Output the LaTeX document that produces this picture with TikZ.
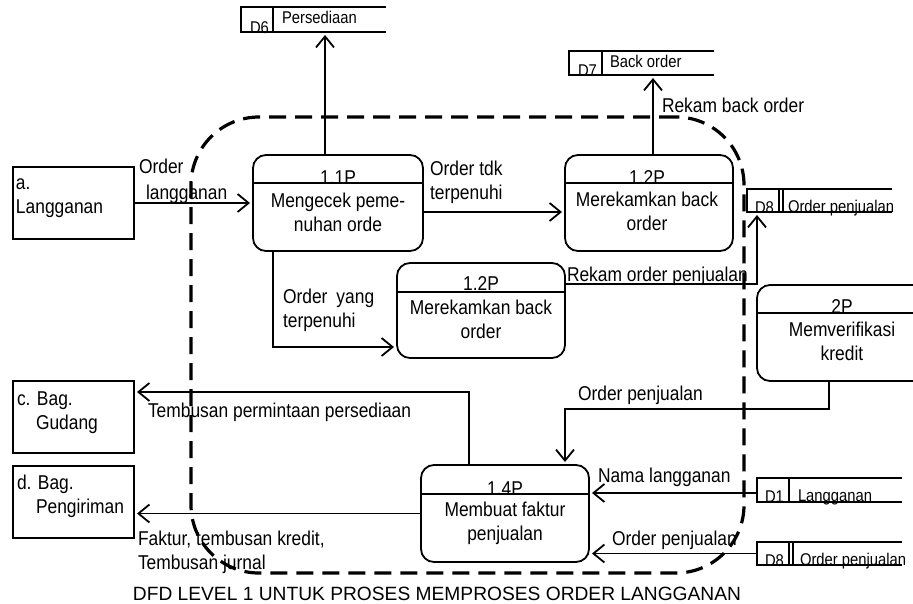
\documentclass[tikz,border=0pt]{standalone}
\usepackage{fontspec}
\setmainfont{Liberation Sans}[FakeStretch=0.87]
\newfontfamily\captionfont{Liberation Sans}
\usetikzlibrary{arrows.meta}

\begin{document}
\begin{tikzpicture}[x=1pt,y=-1pt,
  every node/.style={inner sep=0pt, outer sep=0pt},
  % multi-line texts are placed by the baseline of their last line
  lbl/.style={font=\fontsize{20}{24}\selectfont, anchor=base west, align=left},
  stxt/.style={font=\fontsize{17}{20}\selectfont, anchor=base west},
  ptxt/.style={font=\fontsize{20}{24}\selectfont, anchor=base, align=center},
  ext/.style={draw, line width=1.8pt, minimum width=121pt, minimum height=72pt},
  proc/.style={draw, line width=1.8pt, rounded corners=13pt},
  store/.style={minimum width=145pt},
  line/.style={line width=1.8pt},
  flow/.style={line width=1.8pt, -{Straight Barb[length=11pt,width=18pt]}, shorten >=3pt},
  boundary/.style={draw, line width=3.2pt, dash pattern=on 17pt off 9pt, rounded corners=68pt}
]
\useasboundingbox (0,0) rectangle (913,603);

% ---------- external entities ----------
\node[ext] (extA) at (73.5,203) {};
\node[lbl] (extAt) at ([xshift=3pt,yshift=-46pt]extA.north west) {a.\\Langganan};
\node[ext] (extC) at (73.5,417) {};
\node[lbl] (extCt) at ([xshift=4pt,yshift=-48pt]extC.north west) {c. Bag.\\\hspace*{19pt}Gudang};
\node[ext] (extD) at (73.5,502) {};
\node[lbl] (extDt) at ([xshift=4pt,yshift=-47pt]extD.north west) {d. Bag.\\\hspace*{19pt}Pengiriman};

% ---------- processes ----------
\node[proc, minimum width=170pt, minimum height=96pt] (p11) at (338,203) {};
\draw[line] ([yshift=-28pt]p11.north west) -- ([yshift=-28pt]p11.north east);
\node[ptxt] (p11id) at ([yshift=-29pt]p11.north) {1.1P};
\node[ptxt] (p11tx) at ([yshift=-76pt]p11.north) {Mengecek peme-\\nuhan orde};

\node[proc, minimum width=168pt, minimum height=96pt] (p12a) at (649,203) {};
\draw[line] ([yshift=-28pt]p12a.north west) -- ([yshift=-28pt]p12a.north east);
\node[ptxt] (p12aid) at ([xshift=-2pt,yshift=-29pt]p12a.north) {1.2P};
\node[ptxt] (p12atx) at ([xshift=-2pt,yshift=-75pt]p12a.north) {Merekamkan back\\order};

\node[proc, minimum width=168pt, minimum height=95pt] (p12b) at (481,310.5) {};
\draw[line] ([yshift=-29pt]p12b.north west) -- ([yshift=-29pt]p12b.north east);
\node[ptxt] (p12bid) at ([yshift=-27pt]p12b.north) {1.2P};
\node[ptxt] (p12btx) at ([yshift=-75pt]p12b.north) {Merekamkan back\\order};

\node[proc, minimum width=170pt, minimum height=96pt] (p2) at (842,333) {};
\draw[line] ([yshift=-28pt]p2.north west) -- ([yshift=-28pt]p2.north east);
\node[ptxt] (p2id) at ([yshift=-28pt]p2.north) {2P};
\node[ptxt] (p2tx) at ([yshift=-75pt]p2.north) {Memverifikasi\\kredit};

\node[proc, minimum width=168pt, minimum height=97pt] (p14) at (505,513.5) {};
\draw[line] ([yshift=-29pt]p14.north west) -- ([yshift=-29pt]p14.north east);
\node[ptxt] (p14id) at ([yshift=-30pt]p14.north) {1.4P};
\node[ptxt] (p14tx) at ([yshift=-75pt]p14.north) {Membuat faktur\\penjualan};

% ---------- data stores ----------
\node[store, minimum height=25pt] (d6) at (313.5,19.5) {};
\node[stxt] (d6id) at ([xshift=9pt,yshift=-1pt]d6.south west) {D6};
\node[stxt] (d6tx) at ([xshift=41pt,yshift=-16pt]d6.north west) {Persediaan};
\draw[line] (d6.north east) -- (d6.north west) -- (d6.south west) -- (d6.south east);
\draw[line] ([xshift=32pt]d6.north west) -- ([xshift=32pt]d6.south west);

\node[store, minimum height=24pt] (d7) at (641.5,63) {};
\node[stxt] (d7id) at ([xshift=9pt,yshift=-1pt]d7.south west) {D7};
\node[stxt] (d7tx) at ([xshift=41pt,yshift=-16pt]d7.north west) {Back order};
\draw[line] (d7.north east) -- (d7.north west) -- (d7.south west) -- (d7.south east);
\draw[line] ([xshift=33pt]d7.north west) -- ([xshift=33pt]d7.south west);

\node[store, minimum height=23pt] (d8a) at (819.5,200.5) {};
\node[stxt] (d8aid) at ([xshift=8pt,yshift=-1pt]d8a.south west) {D8};
\node[stxt] (d8atx) at ([xshift=41pt]d8a.south west) {Order penjualan};
\draw[line] (d8a.north east) -- (d8a.north west) -- (d8a.south west) -- (d8a.south east);
\draw[line] ([xshift=32pt]d8a.north west) -- ([xshift=32pt]d8a.south west);
\draw[line] ([xshift=36pt]d8a.north west) -- ([xshift=36pt]d8a.south west);

\node[store, minimum height=24pt] (d1) at (829.5,490) {};
\node[stxt] (d1id) at ([xshift=8pt]d1.south west) {D1};
\node[stxt] (d1tx) at ([xshift=41pt,yshift=1pt]d1.south west) {Langganan};
\draw[line] (d1.north east) -- (d1.north west) -- (d1.south west) -- (d1.south east);
\draw[line] ([xshift=32pt]d1.north west) -- ([xshift=32pt]d1.south west);

\node[store, minimum height=23pt] (d8b) at (829.5,553.5) {};
\node[stxt] (d8bid) at ([xshift=8pt,yshift=-1pt]d8b.south west) {D8};
\node[stxt] (d8btx) at ([xshift=43pt]d8b.south west) {Order penjualan};
\draw[line] (d8b.north east) -- (d8b.north west) -- (d8b.south west) -- (d8b.south east);
\draw[line] ([xshift=32pt]d8b.north west) -- ([xshift=32pt]d8b.south west);
\draw[line] ([xshift=36pt]d8b.north west) -- ([xshift=36pt]d8b.south west);

% ---------- data flows ----------
\draw[flow] (extA.east) -- (p11.west);
\node[lbl] (fOrder) at (139,173) {Order};
\node[lbl] (fLang) at (146,199) {langganan};

\draw[flow] ([xshift=-13pt]p11.north) -- ([xshift=-13pt]p11.north |- d6.south);

\draw[flow] ([yshift=-9pt]p11.east) -- ([yshift=-9pt]p11.east -| p12a.west);
\node[lbl] (fTdk) at (430,199) {Order tdk\\terpenuhi};

\draw[flow] ([xshift=4pt]p12a.north) -- ([xshift=4pt]p12a.north |- d7.south);
\node[lbl] (fRekBack) at (662,112) {Rekam back order};

\draw[flow] ([xshift=-65pt]p11.south) |- ([yshift=-36.5pt]p12b.west);
\node[lbl] (fYang) at (283,327) {Order\hspace{9pt}yang\\terpenuhi};

\draw[flow] ([yshift=-21pt]p12b.north east) -| ([xshift=10pt]d8a.south west);
\node[lbl] (fRekOrd) at (567,281) {Rekam order penjualan};

\draw[flow] ([xshift=-13pt]p2.south) -- ++(0,28) -| ([xshift=60pt]p14.north);
\node[lbl] (fOrdP1) at (578,400) {Order penjualan};

\draw[flow] ([xshift=-36pt]p14.north) |- ([yshift=25pt]extC.east);
\node[lbl] (fTembus) at (148,417) {Tembusan permintaan persediaan};

\draw[flow] (p14.west) -- (p14.west -| extD.east);
\node[lbl] (fFaktur) at (138,569) {Faktur, tembusan kredit,\\Tembusan jurnal};

\draw[flow] ([yshift=-3pt]d1.west) -- ([yshift=-3pt]d1.west -| p14.east);
\node[lbl] (fNama) at (598,482) {Nama langganan};

\draw[flow] (d8b.west) -- (d8b.west -| p14.east);
\node[lbl] (fOrdP2) at (612,545) {Order penjualan};

% ---------- system boundary ----------
\node[boundary, minimum width=553pt, minimum height=456pt] (sys) at (467.5,345) {};

% ---------- caption ----------
\node[font=\captionfont\fontsize{19.2}{23}\selectfont, anchor=base] (cap) at (437,600)
  {DFD LEVEL 1 UNTUK PROSES MEMPROSES ORDER LANGGANAN};
\end{tikzpicture}
\end{document}
